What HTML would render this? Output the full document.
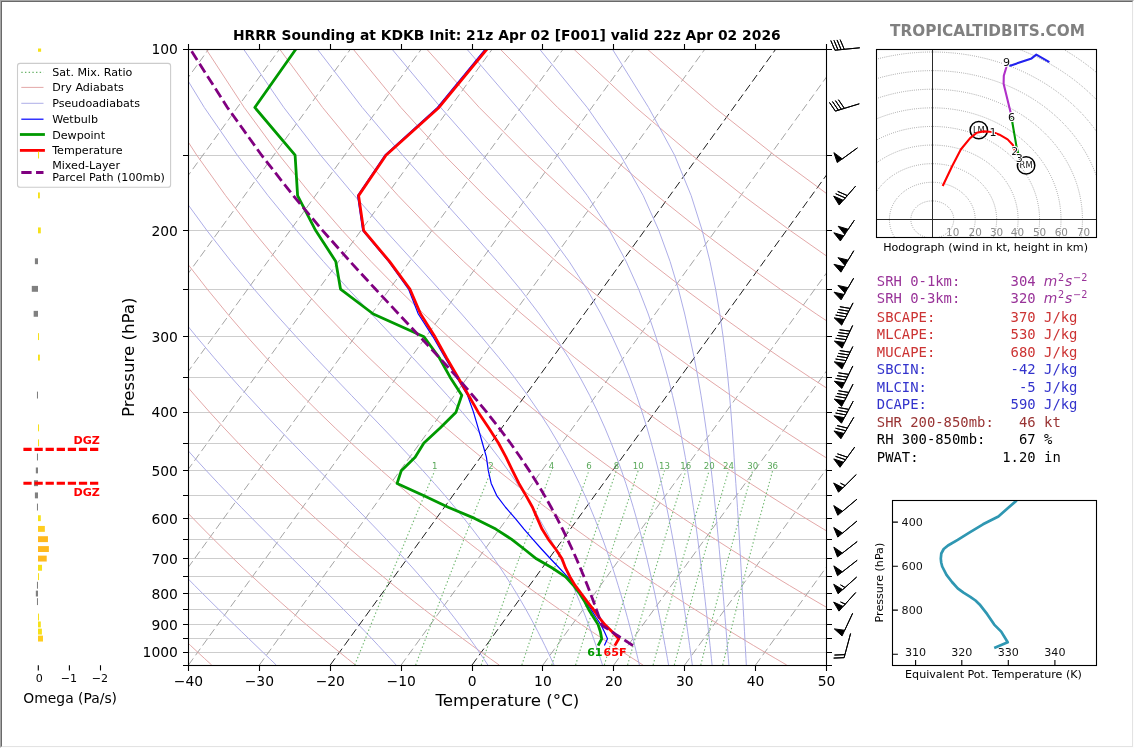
<!DOCTYPE html>
<html lang="en"><head><meta charset="utf-8"><title>HRRR Sounding at KDKB</title>
<style>
html,body{margin:0;padding:0;background:#fff}
#frame{will-change:transform;position:relative;width:1134px;height:748px;overflow:hidden;background:#fff}
#frame .b{position:absolute;box-sizing:border-box;pointer-events:none}
#b1{left:0;top:0;width:1134px;height:748px;border-top:1px solid #a6a6a6;border-left:1px solid #a6a6a6;border-right:1px solid #fdfdfd;border-bottom:1px solid #fdfdfd}
#b2{left:1px;top:1px;width:1132px;height:746px;border-top:1px solid #696969;border-left:1px solid #696969;border-right:1px solid #e3e3e3;border-bottom:1px solid #e3e3e3}
text{white-space:pre}
</style></head><body>
<div id="frame">
<svg width="1134" height="748" viewBox="0 0 1134 748" style="position:absolute;left:0;top:0">
<defs><clipPath id="cp"><rect x="188.5" y="49" width="638" height="616"/></clipPath></defs>
<g clip-path="url(#cp)" fill="none">
<path d="M188.5 49.5H826.5M188.5 155.5H826.5M188.5 230.5H826.5M188.5 289.5H826.5M188.5 336.5H826.5M188.5 377.5H826.5M188.5 412.5H826.5M188.5 443.5H826.5M188.5 470.5H826.5M188.5 495.5H826.5M188.5 518.5H826.5M188.5 539.5H826.5M188.5 558.5H826.5M188.5 576.5H826.5M188.5 593.5H826.5M188.5 609.5H826.5M188.5 624.5H826.5M188.5 638.5H826.5M188.5 652.5H826.5M188.5 665.5H826.5" stroke="#cdcdcd" stroke-width="1"/>
<path d="M-591.28 665L-145.66 49M-520.39 665L-74.77 49M-449.5 665L-3.89 49M-378.61 665L67 49M-307.72 665L137.89 49M-236.83 665L208.78 49M-165.94 665L279.67 49M-95.06 665L350.56 49M-24.17 665L421.45 49M46.72 665L492.34 49M117.61 665L563.23 49M188.5 665L634.11 49M259.39 665L705 49M401.17 665L846.78 49M542.94 665L988.56 49M613.83 665L1059.45 49M684.72 665L1130.34 49M755.61 665L1201.23 49M826.5 665L1272.11 49" stroke="#9a9a9a" stroke-width="0.9" stroke-dasharray="8.2 3.8"/>
<path d="M330.28 665L775.89 49M472.06 665L917.67 49" stroke="#1e1e1e" stroke-width="1.0" stroke-dasharray="8.2 3.8"/>
<path d="M211.66 665 L204.75 658.69 L197.75 652.22 L190.65 645.59 L183.46 638.78 L176.18 631.79 L168.79 624.62 L161.29 617.24 L153.69 609.64 L145.97 601.82 L138.13 593.76 L130.17 585.44 L122.07 576.85 L113.85 567.97 L105.48 558.78 L96.97 549.25 L88.3 539.36 L79.48 529.09 L70.48 518.4 L61.31 507.25 L51.96 495.6 L42.4 483.41 L32.64 470.63 L22.67 457.19 L12.46 443.03 L2.01 428.06 L-8.69 412.17 L-19.67 395.27 L-30.95 377.19 L-42.52 357.78 L-54.43 336.81 L-66.67 314.01 L-79.28 289.04 L-92.26 261.44 L-105.62 230.59 L-119.34 195.6 L-133.37 155.22 L-147.57 107.46 L-161.6 49M355.42 665 L347.53 658.69 L339.52 652.22 L331.41 645.59 L323.18 638.78 L314.84 631.79 L306.37 624.62 L297.77 617.24 L289.04 609.64 L280.18 601.82 L271.16 593.76 L262 585.44 L252.68 576.85 L243.2 567.97 L233.55 558.78 L223.71 549.25 L213.69 539.36 L203.47 529.09 L193.04 518.4 L182.39 507.25 L171.51 495.6 L160.38 483.41 L148.99 470.63 L137.33 457.19 L125.36 443.03 L113.09 428.06 L100.48 412.17 L87.51 395.27 L74.15 377.19 L60.37 357.78 L46.15 336.81 L31.44 314.01 L16.2 289.04 L0.39 261.44 L-16.03 230.59 L-33.1 195.6 L-50.83 155.22 L-69.22 107.46 L-88.07 49M499.19 665 L490.31 658.69 L481.3 652.22 L472.17 645.59 L462.9 638.78 L453.5 631.79 L443.95 624.62 L434.25 617.24 L424.4 609.64 L414.38 601.82 L404.2 593.76 L393.84 585.44 L383.29 576.85 L372.55 567.97 L361.61 558.78 L350.46 549.25 L339.08 539.36 L327.46 529.09 L315.6 518.4 L303.47 507.25 L291.06 495.6 L278.36 483.41 L265.34 470.63 L251.98 457.19 L238.27 443.03 L224.17 428.06 L209.65 412.17 L194.69 395.27 L179.24 377.19 L163.27 357.78 L146.72 336.81 L129.54 314.01 L111.67 289.04 L93.04 261.44 L73.56 230.59 L53.15 195.6 L31.7 155.22 L9.14 107.46 L-14.55 49M642.95 665 L633.09 658.69 L623.08 652.22 L612.93 645.59 L602.62 638.78 L592.16 631.79 L581.53 624.62 L570.73 617.24 L559.76 609.64 L548.59 601.82 L537.24 593.76 L525.68 585.44 L513.9 576.85 L501.91 567.97 L489.68 558.78 L477.2 549.25 L464.46 539.36 L451.45 529.09 L438.15 518.4 L424.55 507.25 L410.61 495.6 L396.33 483.41 L381.68 470.63 L366.64 457.19 L351.17 443.03 L335.24 428.06 L318.83 412.17 L301.87 395.27 L284.34 377.19 L266.16 357.78 L247.29 336.81 L227.65 314.01 L207.15 289.04 L185.69 261.44 L163.15 230.59 L139.39 195.6 L114.23 155.22 L87.49 107.46 L58.97 49M786.72 665 L775.87 658.69 L764.86 652.22 L753.68 645.59 L742.34 638.78 L730.82 631.79 L719.11 624.62 L707.21 617.24 L695.11 609.64 L682.8 601.82 L670.27 593.76 L657.51 585.44 L644.51 576.85 L631.26 567.97 L617.74 558.78 L603.94 549.25 L589.85 539.36 L575.45 529.09 L560.71 518.4 L545.62 507.25 L530.17 495.6 L514.31 483.41 L498.03 470.63 L481.3 457.19 L464.07 443.03 L446.32 428.06 L428 412.17 L409.05 395.27 L389.43 377.19 L369.06 357.78 L347.87 336.81 L325.76 314.01 L302.63 289.04 L278.34 261.44 L252.74 230.59 L225.63 195.6 L196.77 155.22 L165.84 107.46 L132.49 49M930.48 665 L918.65 658.69 L906.64 652.22 L894.44 645.59 L882.06 638.78 L869.48 631.79 L856.69 624.62 L843.69 617.24 L830.47 609.64 L817.01 601.82 L803.31 593.76 L789.35 585.44 L775.12 576.85 L760.61 567.97 L745.81 558.78 L730.69 549.25 L715.24 539.36 L699.44 529.09 L683.27 518.4 L666.7 507.25 L649.72 495.6 L632.29 483.41 L614.38 470.63 L595.95 457.19 L576.98 443.03 L557.4 428.06 L537.17 412.17 L516.24 395.27 L494.52 377.19 L471.96 357.78 L448.44 336.81 L423.87 314.01 L398.11 289.04 L370.99 261.44 L342.33 230.59 L311.87 195.6 L279.3 155.22 L244.19 107.46 L206.01 49M1074.25 665 L1061.43 658.69 L1048.41 652.22 L1035.2 645.59 L1021.78 638.78 L1008.14 631.79 L994.27 624.62 L980.17 617.24 L965.82 609.64 L951.22 601.82 L936.34 593.76 L921.19 585.44 L905.73 576.85 L889.97 567.97 L873.87 558.78 L857.43 549.25 L840.62 539.36 L823.43 529.09 L805.82 518.4 L787.78 507.25 L769.27 495.6 L750.27 483.41 L730.73 470.63 L710.61 457.19 L689.88 443.03 L668.48 428.06 L646.34 412.17 L623.42 395.27 L599.62 377.19 L574.85 357.78 L549.01 336.81 L521.98 314.01 L493.58 289.04 L463.65 261.44 L431.92 230.59 L398.12 195.6 L361.83 155.22 L322.54 107.46 L279.53 49M1218.01 665 L1204.21 658.69 L1190.19 652.22 L1175.96 645.59 L1161.5 638.78 L1146.8 631.79 L1131.85 624.62 L1116.65 617.24 L1101.18 609.64 L1085.43 601.82 L1069.38 593.76 L1053.02 585.44 L1036.34 576.85 L1019.32 567.97 L1001.94 558.78 L984.17 549.25 L966.01 539.36 L947.42 529.09 L928.38 518.4 L908.86 507.25 L888.82 495.6 L868.24 483.41 L847.07 470.63 L825.27 457.19 L802.78 443.03 L779.55 428.06 L755.52 412.17 L730.6 395.27 L704.71 377.19 L677.75 357.78 L649.59 336.81 L620.09 314.01 L589.06 289.04 L556.3 261.44 L521.51 230.59 L484.36 195.6 L444.37 155.22 L400.89 107.46 L353.05 49M1361.77 665 L1346.99 658.69 L1331.97 652.22 L1316.72 645.59 L1301.22 638.78 L1285.46 631.79 L1269.44 624.62 L1253.13 617.24 L1236.54 609.64 L1219.64 601.82 L1202.42 593.76 L1184.86 585.44 L1166.95 576.85 L1148.67 567.97 L1130 558.78 L1110.92 549.25 L1091.4 539.36 L1071.41 529.09 L1050.94 518.4 L1029.94 507.25 L1008.38 495.6 L986.22 483.41 L963.42 470.63 L939.93 457.19 L915.68 443.03 L890.63 428.06 L864.69 412.17 L837.78 395.27 L809.8 377.19 L780.64 357.78 L750.16 336.81 L718.19 314.01 L684.54 289.04 L648.95 261.44 L611.11 230.59 L570.6 195.6 L526.9 155.22 L479.24 107.46 L426.57 49M1505.54 665 L1489.76 658.69 L1473.75 652.22 L1457.47 645.59 L1440.93 638.78 L1424.12 631.79 L1407.02 624.62 L1389.61 617.24 L1371.89 609.64 L1353.85 601.82 L1335.45 593.76 L1316.7 585.44 L1297.56 576.85 L1278.03 567.97 L1258.07 558.78 L1237.66 549.25 L1216.78 539.36 L1195.41 529.09 L1173.49 518.4 L1151.02 507.25 L1127.93 495.6 L1104.2 483.41 L1079.77 470.63 L1054.58 457.19 L1028.59 443.03 L1001.71 428.06 L973.86 412.17 L944.96 395.27 L914.9 377.19 L883.54 357.78 L850.73 336.81 L816.3 314.01 L780.02 289.04 L741.6 261.44 L700.7 230.59 L656.85 195.6 L609.43 155.22 L557.6 107.46 L500.09 49M1649.3 665 L1632.54 658.69 L1615.52 652.22 L1598.23 645.59 L1580.65 638.78 L1562.78 631.79 L1544.6 624.62 L1526.09 617.24 L1507.25 609.64 L1488.05 601.82 L1468.49 593.76 L1448.53 585.44 L1428.17 576.85 L1407.38 567.97 L1386.13 558.78 L1364.41 549.25 L1342.17 539.36 L1319.4 529.09 L1296.05 518.4 L1272.09 507.25 L1247.48 495.6 L1222.17 483.41 L1196.11 470.63 L1169.24 457.19 L1141.49 443.03 L1112.78 428.06 L1083.04 412.17 L1052.15 395.27 L1019.99 377.19 L986.43 357.78 L951.31 336.81 L914.41 314.01 L875.49 289.04 L834.25 261.44 L790.29 230.59 L743.09 195.6 L691.97 155.22 L635.95 107.46 L573.61 49M1793.07 665 L1775.32 658.69 L1757.3 652.22 L1738.99 645.59 L1720.37 638.78 L1701.44 631.79 L1682.18 624.62 L1662.57 617.24 L1642.61 609.64 L1622.26 601.82 L1601.53 593.76 L1580.37 585.44 L1558.78 576.85 L1536.73 567.97 L1514.2 558.78 L1491.15 549.25 L1467.56 539.36 L1443.39 529.09 L1418.61 518.4 L1393.17 507.25 L1367.04 495.6 L1340.15 483.41 L1312.46 470.63 L1283.9 457.19 L1254.39 443.03 L1223.86 428.06 L1192.21 412.17 L1159.33 395.27 L1125.08 377.19 L1089.33 357.78 L1051.88 336.81 L1012.52 314.01 L970.97 289.04 L926.9 261.44 L879.88 230.59 L829.33 195.6 L774.5 155.22 L714.3 107.46 L647.13 49" stroke="#e2a3a3" stroke-width="0.95"/>
<path d="M276.18 665 L269.6 658.69 L262.87 652.22 L255.97 645.59 L248.9 638.78 L241.67 631.79 L234.26 624.62 L226.68 617.24 L218.93 609.64 L211.01 601.82 L202.9 593.76 L194.62 585.44 L186.16 576.85 L177.51 567.97 L168.67 558.78 L159.64 549.25 L150.41 539.36 L140.98 529.09 L131.34 518.4 L121.49 507.25 L111.41 495.6 L101.1 483.41 L90.55 470.63 L79.74 457.19 L68.66 443.03 L57.3 428.06 L45.64 412.17 L33.65 395.27 L21.33 377.19 L8.64 357.78 L-4.43 336.81 L-17.94 314.01 L-31.88 289.04 L-46.29 261.44 L-61.19 230.59 L-76.59 195.6 L-92.48 155.22 L-108.76 107.46 L-125.17 49M396.1 665 L390.42 658.69 L384.52 652.22 L378.37 645.59 L371.98 638.78 L365.32 631.79 L358.41 624.62 L351.21 617.24 L343.73 609.64 L335.96 601.82 L327.9 593.76 L319.53 585.44 L310.86 576.85 L301.87 567.97 L292.56 558.78 L282.94 549.25 L272.99 539.36 L262.71 529.09 L252.1 518.4 L241.17 507.25 L229.89 495.6 L218.27 483.41 L206.29 470.63 L193.96 457.19 L181.25 443.03 L168.16 428.06 L154.66 412.17 L140.73 395.27 L126.35 377.19 L111.49 357.78 L96.1 336.81 L80.08 314.01 L63.45 289.04 L46.15 261.44 L28.13 230.59 L9.31 195.6 L-10.35 155.22 L-30.88 107.46 L-52.21 49M487.86 665 L483.7 658.69 L479.34 652.22 L474.76 645.59 L469.95 638.78 L464.88 631.79 L459.54 624.62 L453.9 617.24 L447.96 609.64 L441.68 601.82 L435.04 593.76 L428.02 585.44 L420.59 576.85 L412.74 567.97 L404.43 558.78 L395.65 549.25 L386.37 539.36 L376.57 529.09 L366.24 518.4 L355.35 507.25 L343.9 495.6 L331.87 483.41 L319.26 470.63 L306.07 457.19 L292.28 443.03 L277.9 428.06 L262.9 412.17 L247.29 395.27 L231.04 377.19 L214.13 357.78 L196.52 336.81 L178.04 314.01 L158.76 289.04 L138.6 261.44 L117.46 230.59 L95.23 195.6 L71.79 155.22 L47.01 107.46 L20.77 49M554.01 665 L551.11 658.69 L548.07 652.22 L544.87 645.59 L541.5 638.78 L537.94 631.79 L534.18 624.62 L530.21 617.24 L525.99 609.64 L521.5 601.82 L516.73 593.76 L511.63 585.44 L506.19 576.85 L500.36 567.97 L494.1 558.78 L487.38 549.25 L480.14 539.36 L472.33 529.09 L463.91 518.4 L454.81 507.25 L444.97 495.6 L434.35 483.41 L422.87 470.63 L410.5 457.19 L397.19 443.03 L382.91 428.06 L367.62 412.17 L351.32 395.27 L334 377.19 L315.64 357.78 L296.24 336.81 L275.67 314.01 L253.98 289.04 L231.12 261.44 L206.99 230.59 L181.45 195.6 L154.32 155.22 L125.36 107.46 L94.3 49M602.49 665 L600.43 658.69 L598.28 652.22 L596.02 645.59 L593.65 638.78 L591.15 631.79 L588.52 624.62 L585.74 617.24 L582.79 609.64 L579.67 601.82 L576.34 593.76 L572.79 585.44 L569 576.85 L564.93 567.97 L560.55 558.78 L555.82 549.25 L550.7 539.36 L545.14 529.09 L539.07 518.4 L532.44 507.25 L525.16 495.6 L517.14 483.41 L508.29 470.63 L498.49 457.19 L487.62 443.03 L475.54 428.06 L462.14 412.17 L447.28 395.27 L430.86 377.19 L412.79 357.78 L393.03 336.81 L371.55 314.01 L348.33 289.04 L323.36 261.44 L296.61 230.59 L267.99 195.6 L237.32 155.22 L204.31 107.46 L168.54 49M639.4 665 L637.9 658.69 L636.33 652.22 L634.7 645.59 L632.98 638.78 L631.19 631.79 L629.3 624.62 L627.32 617.24 L625.23 609.64 L623.01 601.82 L620.66 593.76 L618.17 585.44 L615.51 576.85 L612.66 567.97 L609.6 558.78 L606.31 549.25 L602.75 539.36 L598.89 529.09 L594.67 518.4 L590.06 507.25 L584.98 495.6 L579.36 483.41 L573.1 470.63 L566.11 457.19 L558.23 443.03 L549.32 428.06 L539.18 412.17 L527.59 395.27 L514.29 377.19 L499.01 357.78 L481.47 336.81 L461.6 314.01 L439.01 289.04 L413.63 261.44 L385.43 230.59 L354.45 195.6 L320.63 155.22 L283.78 107.46 L243.44 49M668.56 665 L667.44 658.69 L666.27 652.22 L665.05 645.59 L663.79 638.78 L662.47 631.79 L661.08 624.62 L659.64 617.24 L658.12 609.64 L656.51 601.82 L654.82 593.76 L653.03 585.44 L651.13 576.85 L649.1 567.97 L646.94 558.78 L644.61 549.25 L642.11 539.36 L639.4 529.09 L636.46 518.4 L633.25 507.25 L629.72 495.6 L625.83 483.41 L621.5 470.63 L616.65 457.19 L611.18 443.03 L604.97 428.06 L597.84 412.17 L589.6 395.27 L579.96 377.19 L568.61 357.78 L555.11 336.81 L539.27 314.01 L520.2 289.04 L497.32 261.44 L470.21 230.59 L438.63 195.6 L402.63 155.22 L362.25 107.46 L317.24 49M692.3 665 L691.44 658.69 L690.55 652.22 L689.64 645.59 L688.68 638.78 L687.69 631.79 L686.66 624.62 L685.59 617.24 L684.47 609.64 L683.29 601.82 L682.05 593.76 L680.75 585.44 L679.37 576.85 L677.91 567.97 L676.35 558.78 L674.69 549.25 L672.91 539.36 L670.99 529.09 L668.92 518.4 L666.66 507.25 L664.2 495.6 L661.48 483.41 L658.47 470.63 L655.12 457.19 L651.34 443.03 L647.05 428.06 L642.14 412.17 L636.44 395.27 L629.76 377.19 L621.82 357.78 L612.25 336.81 L600.96 314.01 L586.88 289.04 L569.11 261.44 L546.53 230.59 L518.02 195.6 L482.79 155.22 L440.68 107.46 L391.87 49M712.09 665 L711.43 658.69 L710.75 652.22 L710.05 645.59 L709.32 638.78 L708.57 631.79 L707.8 624.62 L706.99 617.24 L706.16 609.64 L705.29 601.82 L704.37 593.76 L703.42 585.44 L702.41 576.85 L701.35 567.97 L700.23 558.78 L699.04 549.25 L697.77 539.36 L696.41 529.09 L694.94 518.4 L693.35 507.25 L691.62 495.6 L689.73 483.41 L687.64 470.63 L685.31 457.19 L682.7 443.03 L679.75 428.06 L676.38 412.17 L672.47 395.27 L667.89 377.19 L662.45 357.78 L655.86 336.81 L648.23 314.01 L638.6 289.04 L626.14 261.44 L609.64 230.59 L587.36 195.6 L557.16 155.22 L517.14 107.46 L466.74 49M728.92 665 L728.4 658.69 L727.88 652.22 L727.34 645.59 L726.78 638.78 L726.22 631.79 L725.63 624.62 L725.03 617.24 L724.41 609.64 L723.76 601.82 L723.09 593.76 L722.39 585.44 L721.66 576.85 L720.9 567.97 L720.1 558.78 L719.25 549.25 L718.35 539.36 L717.39 529.09 L716.36 518.4 L715.26 507.25 L714.06 495.6 L712.75 483.41 L711.31 470.63 L709.72 457.19 L707.94 443.03 L705.93 428.06 L703.64 412.17 L700.99 395.27 L697.88 377.19 L694.19 357.78 L689.72 336.81 L684.72 314.01 L678.37 289.04 L670.08 261.44 L658.89 230.59 L643.22 195.6 L620.53 155.22 L587.17 107.46 L539.48 49M746.32 665 L745.97 658.69 L745.62 652.22 L745.26 645.59 L744.89 638.78 L744.51 631.79 L744.13 624.62 L743.73 617.24 L743.32 609.64 L742.9 601.82 L742.47 593.76 L742.01 585.44 L741.54 576.85 L741.05 567.97 L740.53 558.78 L739.99 549.25 L739.41 539.36 L738.8 529.09 L738.15 518.4 L737.44 507.25 L736.68 495.6 L735.84 483.41 L734.93 470.63 L734.13 457.19 L733.22 443.03 L732.17 428.06 L730.96 412.17 L729.52 395.27 L727.8 377.19 L725.7 357.78 L723.11 336.81 L719.83 314.01 L715.6 289.04 L709.97 261.44 L702.23 230.59 L691.17 195.6 L674.59 155.22 L648.56 107.46 L612.3 49" stroke="#a9a9e6" stroke-width="0.95"/>
<path d="M354.76 665 L371 624.62 L383.54 593.76 L397.91 558.78 L414.69 518.4 L434.77 470.63M415.67 665 L430.91 624.62 L442.71 593.76 L456.25 558.78 L472.09 518.4 L491.1 470.63M481.21 665 L495.34 624.62 L506.31 593.76 L518.92 558.78 L533.72 518.4 L551.54 470.63M521.86 665 L535.27 624.62 L545.71 593.76 L557.74 558.78 L571.87 518.4 L588.92 470.63M551.77 665 L564.65 624.62 L574.69 593.76 L586.28 558.78 L599.91 518.4 L616.39 470.63M575.6 665 L588.05 624.62 L597.77 593.76 L609 558.78 L622.23 518.4 L638.24 470.63M604.32 665 L616.24 624.62 L625.57 593.76 L636.36 558.78 L649.1 518.4 L664.55 470.63M627.59 665 L639.08 624.62 L648.08 593.76 L658.51 558.78 L670.85 518.4 L685.84 470.63M653.11 665 L664.11 624.62 L672.76 593.76 L682.79 558.78 L694.68 518.4 L709.16 470.63M674.34 665 L684.94 624.62 L693.28 593.76 L702.98 558.78 L714.5 518.4 L728.54 470.63M700.78 665 L710.87 624.62 L718.83 593.76 L728.11 558.78 L739.15 518.4 L752.65 470.63M722.72 665 L732.38 624.62 L740.02 593.76 L748.94 558.78 L759.59 518.4 L772.63 470.63" stroke="#72b872" stroke-width="1.15" stroke-dasharray="1.39 2.29"/>
<text x="434.77" y="469.0" font-family='"DejaVu Sans","Liberation Sans",sans-serif' font-size="8.6" fill="#5aa85a" stroke="none" text-anchor="middle">1</text>
<text x="491.1" y="469.0" font-family='"DejaVu Sans","Liberation Sans",sans-serif' font-size="8.6" fill="#5aa85a" stroke="none" text-anchor="middle">2</text>
<text x="551.54" y="469.0" font-family='"DejaVu Sans","Liberation Sans",sans-serif' font-size="8.6" fill="#5aa85a" stroke="none" text-anchor="middle">4</text>
<text x="588.92" y="469.0" font-family='"DejaVu Sans","Liberation Sans",sans-serif' font-size="8.6" fill="#5aa85a" stroke="none" text-anchor="middle">6</text>
<text x="616.39" y="469.0" font-family='"DejaVu Sans","Liberation Sans",sans-serif' font-size="8.6" fill="#5aa85a" stroke="none" text-anchor="middle">8</text>
<text x="638.24" y="469.0" font-family='"DejaVu Sans","Liberation Sans",sans-serif' font-size="8.6" fill="#5aa85a" stroke="none" text-anchor="middle">10</text>
<text x="664.55" y="469.0" font-family='"DejaVu Sans","Liberation Sans",sans-serif' font-size="8.6" fill="#5aa85a" stroke="none" text-anchor="middle">13</text>
<text x="685.84" y="469.0" font-family='"DejaVu Sans","Liberation Sans",sans-serif' font-size="8.6" fill="#5aa85a" stroke="none" text-anchor="middle">16</text>
<text x="709.16" y="469.0" font-family='"DejaVu Sans","Liberation Sans",sans-serif' font-size="8.6" fill="#5aa85a" stroke="none" text-anchor="middle">20</text>
<text x="728.54" y="469.0" font-family='"DejaVu Sans","Liberation Sans",sans-serif' font-size="8.6" fill="#5aa85a" stroke="none" text-anchor="middle">24</text>
<text x="752.65" y="469.0" font-family='"DejaVu Sans","Liberation Sans",sans-serif' font-size="8.6" fill="#5aa85a" stroke="none" text-anchor="middle">30</text>
<text x="772.63" y="469.0" font-family='"DejaVu Sans","Liberation Sans",sans-serif' font-size="8.6" fill="#5aa85a" stroke="none" text-anchor="middle">36</text>
<path d="M485.3 49 L437.4 107.46 L384.8 155.22 L357.6 195.6 L362.7 230.59 L388.5 261.44 L408.5 289.04 L418.3 314.01 L433 336.81 L445 357.78 L456.5 377.19 L467.5 395.27 L473.5 412.17 L478.2 428.06 L482.4 443.03 L486.4 457.19 L488.3 470.63 L491.2 483.41 L496.7 495.6 L505.5 507.25 L515.2 518.4 L524 529.09 L532.9 539.36 L541.7 549.25 L550.5 558.78 L559.3 567.97 L567.6 576.85 L574.3 585.44 L580.5 593.76 L586 601.82 L591.2 609.64 L595.9 617.24 L600.8 624.62 L604.4 631.79 L607.5 638.78 L604.4 645.59" stroke="#0000ff" stroke-width="1.2" stroke-linejoin="round"/>
<path d="M296 49 L254.8 107.46 L295.1 155.22 L297.6 195.6 L315.7 230.59 L335.8 261.44 L340.5 289.04 L373.3 314.01 L424 336.81 L439.3 357.78 L450.1 377.19 L461.8 395.27 L456 412.17 L440.1 428.06 L423.9 443.03 L415.1 457.19 L401.3 470.63 L397.1 483.41 L423.5 495.6 L448.2 507.25 L474.7 518.4 L495.8 529.09 L511.7 539.36 L524.4 549.25 L536.4 558.78 L552.3 567.97 L565.6 576.85 L573.6 585.44 L579.7 593.76 L584.8 601.82 L588.8 609.64 L593.5 617.24 L598.1 624.62 L600.4 631.79 L601.7 638.78 L598.1 645.59" stroke="#009900" stroke-width="2.8" stroke-linejoin="round"/>
<path d="M487 49 L439 107.46 L386 155.22 L358.6 195.6 L363.7 230.59 L389.5 261.44 L409.9 289.04 L420.6 314.01 L435 336.81 L446.5 357.78 L457.9 377.19 L468.5 395.27 L478.2 412.17 L488.8 428.06 L498.4 443.03 L506 457.19 L512.5 470.63 L518.9 483.41 L526 495.6 L532.5 507.25 L537.3 518.4 L542 529.09 L548.4 539.36 L555.8 549.25 L562 558.78 L565.5 567.97 L570 576.85 L575.1 585.44 L581.4 593.76 L587.4 601.82 L593.5 609.64 L598.8 617.24 L604.8 624.62 L612.2 631.79 L618.8 638.78 L614.8 645.59" stroke="#ff0000" stroke-width="2.8" stroke-linejoin="round"/>
<path d="M633 645.59 L630.92 644.24 L628.83 642.88 L626.73 641.52 L624.63 640.16 L622.52 638.78 L620.4 637.4 L618.28 636.01 L616.15 634.61 L614.02 633.21 L611.88 631.79 L609.73 630.37 L607.58 628.95 L605.41 627.51 L603.25 626.07 L601.61 624.62 L601.12 623.16 L600.62 621.69 L600.12 620.21 L599.09 617.24 L596.44 609.64 L593.62 601.82 L590.62 593.76 L587.42 585.44 L584.01 576.85 L580.35 567.97 L576.41 558.78 L572.16 549.25 L567.56 539.36 L562.55 529.09 L557.1 518.4 L551.12 507.25 L544.55 495.6 L537.3 483.41 L529.26 470.63 L520.32 457.19 L510.34 443.03 L499.18 428.06 L486.67 412.17 L472.65 395.27 L456.97 377.19 L439.48 357.78 L420.09 336.81 L398.73 314.01 L375.38 289.04 L350.04 261.44 L322.69 230.59 L293.26 195.6 L261.59 155.22 L227.38 107.46 L190.19 49" stroke="#800080" stroke-width="2.8" stroke-dasharray="10.3 4.45"/>
</g>
<text x="602.6" y="655.7" font-family='"DejaVu Sans","Liberation Sans",sans-serif' font-size="11.1" font-weight="bold" fill="#009900" text-anchor="end">61</text>
<text x="603.6" y="655.7" font-family='"DejaVu Sans","Liberation Sans",sans-serif' font-size="11.1" font-weight="bold" fill="#ff0000">65F</text>
<rect x="188.5" y="49.5" width="638" height="616" fill="none" stroke="#000" stroke-width="1.1"/>
<path d="M188.5 49.5h-5.5M826.5 49.5h5.5M188.5 155.5h-5.5M826.5 155.5h5.5M188.5 230.5h-5.5M826.5 230.5h5.5M188.5 289.5h-5.5M826.5 289.5h5.5M188.5 336.5h-5.5M826.5 336.5h5.5M188.5 377.5h-5.5M826.5 377.5h5.5M188.5 412.5h-5.5M826.5 412.5h5.5M188.5 443.5h-5.5M826.5 443.5h5.5M188.5 470.5h-5.5M826.5 470.5h5.5M188.5 495.5h-5.5M826.5 495.5h5.5M188.5 518.5h-5.5M826.5 518.5h5.5M188.5 539.5h-5.5M826.5 539.5h5.5M188.5 558.5h-5.5M826.5 558.5h5.5M188.5 576.5h-5.5M826.5 576.5h5.5M188.5 593.5h-5.5M826.5 593.5h5.5M188.5 609.5h-5.5M826.5 609.5h5.5M188.5 624.5h-5.5M826.5 624.5h5.5M188.5 638.5h-5.5M826.5 638.5h5.5M188.5 652.5h-5.5M826.5 652.5h5.5M188.5 665.5h-5.5M826.5 665.5h5.5M188.5 665.5v5.5M188.5 49.5v-5.5M259.5 665.5v5.5M259.5 49.5v-5.5M330.5 665.5v5.5M330.5 49.5v-5.5M401.5 665.5v5.5M401.5 49.5v-5.5M472.5 665.5v5.5M472.5 49.5v-5.5M542.5 665.5v5.5M542.5 49.5v-5.5M613.5 665.5v5.5M613.5 49.5v-5.5M684.5 665.5v5.5M684.5 49.5v-5.5M755.5 665.5v5.5M755.5 49.5v-5.5M826.5 665.5v5.5M826.5 49.5v-5.5" stroke="#000" stroke-width="1.1" fill="none"/>
<text x="177.9" y="54.1" font-family='"DejaVu Sans","Liberation Sans",sans-serif' font-size="13.89" text-anchor="end">100</text>
<text x="177.9" y="235.69" font-family='"DejaVu Sans","Liberation Sans",sans-serif' font-size="13.89" text-anchor="end">200</text>
<text x="177.9" y="341.91" font-family='"DejaVu Sans","Liberation Sans",sans-serif' font-size="13.89" text-anchor="end">300</text>
<text x="177.9" y="417.27" font-family='"DejaVu Sans","Liberation Sans",sans-serif' font-size="13.89" text-anchor="end">400</text>
<text x="177.9" y="475.73" font-family='"DejaVu Sans","Liberation Sans",sans-serif' font-size="13.89" text-anchor="end">500</text>
<text x="177.9" y="523.5" font-family='"DejaVu Sans","Liberation Sans",sans-serif' font-size="13.89" text-anchor="end">600</text>
<text x="177.9" y="563.88" font-family='"DejaVu Sans","Liberation Sans",sans-serif' font-size="13.89" text-anchor="end">700</text>
<text x="177.9" y="598.86" font-family='"DejaVu Sans","Liberation Sans",sans-serif' font-size="13.89" text-anchor="end">800</text>
<text x="177.9" y="629.72" font-family='"DejaVu Sans","Liberation Sans",sans-serif' font-size="13.89" text-anchor="end">900</text>
<text x="177.9" y="657.32" font-family='"DejaVu Sans","Liberation Sans",sans-serif' font-size="13.89" text-anchor="end">1000</text>
<text x="188.5" y="685.6" font-family='"DejaVu Sans","Liberation Sans",sans-serif' font-size="13.89" text-anchor="middle">−40</text>
<text x="259.39" y="685.6" font-family='"DejaVu Sans","Liberation Sans",sans-serif' font-size="13.89" text-anchor="middle">−30</text>
<text x="330.28" y="685.6" font-family='"DejaVu Sans","Liberation Sans",sans-serif' font-size="13.89" text-anchor="middle">−20</text>
<text x="401.17" y="685.6" font-family='"DejaVu Sans","Liberation Sans",sans-serif' font-size="13.89" text-anchor="middle">−10</text>
<text x="472.06" y="685.6" font-family='"DejaVu Sans","Liberation Sans",sans-serif' font-size="13.89" text-anchor="middle">0</text>
<text x="542.94" y="685.6" font-family='"DejaVu Sans","Liberation Sans",sans-serif' font-size="13.89" text-anchor="middle">10</text>
<text x="613.83" y="685.6" font-family='"DejaVu Sans","Liberation Sans",sans-serif' font-size="13.89" text-anchor="middle">20</text>
<text x="684.72" y="685.6" font-family='"DejaVu Sans","Liberation Sans",sans-serif' font-size="13.89" text-anchor="middle">30</text>
<text x="755.61" y="685.6" font-family='"DejaVu Sans","Liberation Sans",sans-serif' font-size="13.89" text-anchor="middle">40</text>
<text x="826.5" y="685.6" font-family='"DejaVu Sans","Liberation Sans",sans-serif' font-size="13.89" text-anchor="middle">50</text>
<text x="507.4" y="706.2" font-family='"DejaVu Sans","Liberation Sans",sans-serif' font-size="16.67" text-anchor="middle">Temperature (°C)</text>
<text transform="translate(133.6 357.2) rotate(-90)" font-family='"DejaVu Sans","Liberation Sans",sans-serif' font-size="16.67" text-anchor="middle">Pressure (hPa)</text>
<text x="506.8" y="40.2" font-family='"DejaVu Sans","Liberation Sans",sans-serif' font-size="13.89" font-weight="bold" text-anchor="middle">HRRR Sounding at KDKB Init: 21z Apr 02 [F001] valid 22z Apr 02 2026</text>
<path d="M859.79 47.8 L834.91 50.2 L830.84 40.54 L834.91 50.2 L838.02 49.9 L833.95 40.24 L838.02 49.9 L841.13 49.6 L837.06 39.94 L841.13 49.6 L844.24 49.3 L840.17 39.65 L844.24 49.3ZM859.3 103.8 L835.4 111.11 L829.48 102.46 L835.4 111.11 L838.38 110.2 L832.47 101.55 L838.38 110.2 L841.37 109.29 L835.46 100.64 L841.37 109.29 L844.36 108.37 L838.45 99.72 L844.36 108.37ZM857.46 147.87 L837.24 162.57 L833.89 152.64 L842.29 158.9ZM855.55 186.17 L839.15 205.04 L833.65 196.12 L843.25 200.32 L845.3 197.96 L835.7 193.76 L845.3 197.96 L847.35 195.6 L837.75 191.4 L847.35 195.6ZM854.34 220.22 L840.36 240.95 L833.82 232.77 L843.86 235.77 L844.73 234.47 L838.19 226.29 L848.22 229.29ZM853.79 250.73 L840.91 272.16 L833.95 264.33 L844.13 266.8 L844.94 265.46 L837.97 257.63 L848.15 260.1ZM853.6 278.22 L841.1 299.87 L834 292.16 L844.23 294.46 L845.01 293.1 L837.91 285.4 L848.13 287.69ZM853.02 302.88 L841.68 325.15 L834.18 317.83 L844.51 319.58 L845.93 316.8 L835.6 315.04 L845.93 316.8 L847.35 314.01 L837.02 312.26 L847.35 314.01 L848.77 311.23 L838.44 309.47 L848.77 311.23 L850.19 308.44 L839.86 306.69 L850.19 308.44ZM852.63 325.48 L842.07 348.14 L834.32 341.08 L844.71 342.47 L846.03 339.64 L835.65 338.25 L846.03 339.64 L847.35 336.81 L836.97 335.41 L847.35 336.81 L848.67 333.98 L838.29 332.58 L848.67 333.98 L849.99 331.14 L839.61 329.75 L849.99 331.14ZM852.83 346.54 L841.87 369.01 L834.25 361.82 L844.61 363.39 L845.98 360.59 L835.62 359.01 L845.98 360.59 L847.35 357.78 L836.99 356.2 L847.35 357.78 L848.72 354.97 L838.36 353.39 L848.72 354.97 L850.09 352.16 L839.73 350.58 L850.09 352.16ZM852.83 365.96 L841.87 388.43 L834.25 381.23 L844.61 382.81 L845.98 380 L835.62 378.43 L845.98 380 L847.35 377.19 L836.99 375.62 L847.35 377.19 L848.72 374.38 L838.36 372.81 L848.72 374.38ZM853.02 384.13 L841.68 406.4 L834.18 399.08 L844.51 400.83 L845.93 398.05 L835.6 396.3 L845.93 398.05 L847.35 395.27 L837.02 393.51 L847.35 395.27 L848.77 392.48 L838.44 390.73 L848.77 392.48ZM853.22 401.14 L841.48 423.21 L834.12 415.76 L844.42 417.69 L845.88 414.93 L835.59 413 L845.88 414.93 L847.35 412.17 L837.05 410.24 L847.35 412.17 L848.82 409.41 L838.52 407.48 L848.82 409.41ZM853.79 417.34 L840.91 438.77 L833.95 430.94 L844.13 433.41 L845.74 430.73 L835.56 428.26 L845.74 430.73 L847.35 428.06 L837.17 425.58 L847.35 428.06ZM854.7 447.08 L840 467.31 L833.75 458.9 L843.68 462.25 L845.51 459.72 L835.59 456.37 L845.51 459.72 L847.35 457.19 L837.42 453.84 L847.35 457.19ZM856.19 474.57 L838.51 492.25 L833.65 482.97 L842.93 487.83 L845.14 485.62 L840.5 483.19 L845.14 485.62ZM856.93 499.21 L837.77 515.28 L833.74 505.61 L842.56 511.26ZM856.93 521.05 L837.77 537.12 L833.74 527.46 L842.56 533.11ZM857.2 541.56 L837.5 556.95 L833.81 547.14 L842.42 553.1ZM857.2 560.28 L837.5 575.67 L833.81 565.86 L842.42 571.82ZM856.64 577.08 L838.06 593.81 L833.69 584.28 L842.71 589.63 L845.03 587.53 L840.52 584.86 L845.03 587.53ZM855.71 592.53 L838.99 611.11 L833.65 602.1 L843.17 606.47 L845.26 604.14 L840.5 601.96 L845.26 604.14ZM852.63 613.29 L842.07 635.95 L834.32 628.89 L844.71 630.28ZM850.59 633.51 L844.11 657.66 L833.65 658.09 L844.11 657.66 L844.92 654.64 L834.46 655.07 L844.92 654.64Z" fill="#000" stroke="#000" stroke-width="1.0" stroke-linejoin="miter"/>
<rect x="17.5" y="63.4" width="153.1" height="123.9" rx="2.6" fill="#fff" fill-opacity="0.8" stroke="#cccccc" stroke-width="1.1"/>
<path d="M21.3 72.4H43.5" stroke="#6ab36a" stroke-width="1.35" fill="none" stroke-dasharray="1.39 2.29"/>
<text x="52.2" y="76.4" font-family='"DejaVu Sans","Liberation Sans",sans-serif' font-size="11.11">Sat. Mix. Ratio</text>
<path d="M21.3 87.4H43.5" stroke="#e2a3a3" stroke-width="0.95" fill="none"/>
<text x="52.2" y="91.4" font-family='"DejaVu Sans","Liberation Sans",sans-serif' font-size="11.11">Dry Adiabats</text>
<path d="M21.3 103.3H43.5" stroke="#a9a9e6" stroke-width="0.95" fill="none"/>
<text x="52.2" y="107.3" font-family='"DejaVu Sans","Liberation Sans",sans-serif' font-size="11.11">Pseudoadiabats</text>
<path d="M21.3 119.2H43.5" stroke="#0000ff" stroke-width="1.2" fill="none"/>
<text x="52.2" y="123.2" font-family='"DejaVu Sans","Liberation Sans",sans-serif' font-size="11.11">Wetbulb</text>
<path d="M21.3 134.5H43.5" stroke="#009900" stroke-width="2.8" fill="none" stroke-linecap="square"/>
<text x="52.2" y="138.5" font-family='"DejaVu Sans","Liberation Sans",sans-serif' font-size="11.11">Dewpoint</text>
<path d="M21.3 150.4H43.5" stroke="#ff0000" stroke-width="2.8" fill="none" stroke-linecap="square"/>
<text x="52.2" y="154.4" font-family='"DejaVu Sans","Liberation Sans",sans-serif' font-size="11.11">Temperature</text>
<path d="M21.3 172.5H43.5" stroke="#800080" stroke-width="2.8" stroke-dasharray="10.3 4.45" fill="none"/>
<text x="52.2" y="169.4" font-family='"DejaVu Sans","Liberation Sans",sans-serif' font-size="11.11">Mixed-Layer</text>
<text x="52.2" y="181.0" font-family='"DejaVu Sans","Liberation Sans",sans-serif' font-size="11.11">Parcel Path (100mb)</text>
<defs><clipPath id="oc"><rect x="0" y="48.5" width="180" height="616"/></clipPath></defs><g clip-path="url(#oc)">
<rect x="38" y="45.85" width="3.11" height="5.9" fill="#f6e118"/>
<rect x="38" y="151.57" width="1.05" height="6.9" fill="#f6e118"/>
<rect x="38" y="192.45" width="1.87" height="5.9" fill="#f6e118"/>
<rect x="38" y="227.44" width="2.8" height="5.9" fill="#f6e118"/>
<rect x="34.89" y="258.29" width="3.11" height="5.9" fill="#808080"/>
<rect x="31.78" y="285.89" width="6.22" height="5.9" fill="#808080"/>
<rect x="33.65" y="310.86" width="4.35" height="5.9" fill="#808080"/>
<rect x="38" y="333.16" width="1.05" height="6.9" fill="#f6e118"/>
<rect x="38" y="354.63" width="1.87" height="5.9" fill="#f6e118"/>
<rect x="36.95" y="391.62" width="1.05" height="6.9" fill="#808080"/>
<rect x="38" y="424.41" width="1.05" height="6.9" fill="#f6e118"/>
<rect x="38" y="439.38" width="1.05" height="6.9" fill="#f6e118"/>
<rect x="36.95" y="453.54" width="1.05" height="6.9" fill="#808080"/>
<rect x="35.82" y="467.48" width="2.18" height="5.9" fill="#808080"/>
<rect x="33.96" y="480.26" width="4.04" height="5.9" fill="#808080"/>
<rect x="34.89" y="492.45" width="3.11" height="5.9" fill="#808080"/>
<rect x="36.95" y="503.6" width="1.05" height="6.9" fill="#808080"/>
<rect x="38" y="515.25" width="2.8" height="5.9" fill="#f6e118"/>
<rect x="38" y="525.94" width="6.84" height="5.9" fill="#ffcd1e"/>
<rect x="38" y="536.21" width="9.95" height="5.9" fill="#ffb91e"/>
<rect x="38" y="546.1" width="10.88" height="5.9" fill="#ffb91e"/>
<rect x="38" y="555.63" width="8.71" height="5.9" fill="#ffb91e"/>
<rect x="38" y="564.82" width="4.04" height="5.9" fill="#f6e118"/>
<rect x="38" y="573.2" width="1.05" height="6.9" fill="#f6e118"/>
<rect x="36.95" y="581.79" width="1.05" height="6.9" fill="#808080"/>
<rect x="35.82" y="590.61" width="2.18" height="5.9" fill="#808080"/>
<rect x="36.95" y="598.17" width="1.05" height="6.9" fill="#808080"/>
<rect x="38" y="613.59" width="1.05" height="6.9" fill="#f6e118"/>
<rect x="38" y="621.47" width="2.8" height="5.9" fill="#f6e118"/>
<rect x="38" y="628.64" width="3.89" height="5.9" fill="#f6e118"/>
<rect x="38" y="635.63" width="4.98" height="5.9" fill="#ffcd1e"/>
</g>
<path d="M38.3 665.2v5.4M69.4 665.2v5.4M100.5 665.2v5.4" stroke="#000" stroke-width="1.1" fill="none"/>
<text x="39.4" y="682.2" font-family='"DejaVu Sans","Liberation Sans",sans-serif' font-size="11.11" text-anchor="middle">0</text>
<text x="68.9" y="682.2" font-family='"DejaVu Sans","Liberation Sans",sans-serif' font-size="11.11" text-anchor="middle">−1</text>
<text x="100" y="682.2" font-family='"DejaVu Sans","Liberation Sans",sans-serif' font-size="11.11" text-anchor="middle">−2</text>
<text x="70.2" y="703.0" font-family='"DejaVu Sans","Liberation Sans",sans-serif' font-size="13.89" text-anchor="middle">Omega (Pa/s)</text>
<path d="M23.4 449.4H98.6M23.4 483.3H98.6" stroke="#ff0000" stroke-width="3.1" stroke-dasharray="8.25 2.85" fill="none"/>
<text x="99.9" y="444.1" font-family='"DejaVu Sans","Liberation Sans",sans-serif' font-size="11.11" font-weight="bold" fill="#ff0000" text-anchor="end">DGZ</text>
<text x="99.9" y="496.4" font-family='"DejaVu Sans","Liberation Sans",sans-serif' font-size="11.11" font-weight="bold" fill="#ff0000" text-anchor="end">DGZ</text>
<text x="987.5" y="36.3" font-family='"DejaVu Sans","Liberation Sans",sans-serif' font-size="15.28" font-weight="bold" fill="#808080" text-anchor="middle">TROPICALTIDBITS.COM</text>
<defs><clipPath id="hc"><rect x="876.5" y="49.5" width="220" height="188"/></clipPath></defs>
<g clip-path="url(#hc)" fill="none">
<ellipse cx="932.3" cy="219.5" rx="21.45" ry="18.61" stroke="#858585" stroke-width="0.83" stroke-dasharray="0.83 1.32"/>
<ellipse cx="932.3" cy="219.5" rx="42.9" ry="37.22" stroke="#858585" stroke-width="0.83" stroke-dasharray="0.83 1.32"/>
<ellipse cx="932.3" cy="219.5" rx="64.35" ry="55.83" stroke="#858585" stroke-width="0.83" stroke-dasharray="0.83 1.32"/>
<ellipse cx="932.3" cy="219.5" rx="85.8" ry="74.44" stroke="#858585" stroke-width="0.83" stroke-dasharray="0.83 1.32"/>
<ellipse cx="932.3" cy="219.5" rx="107.25" ry="93.05" stroke="#858585" stroke-width="0.83" stroke-dasharray="0.83 1.32"/>
<ellipse cx="932.3" cy="219.5" rx="128.7" ry="111.66" stroke="#858585" stroke-width="0.83" stroke-dasharray="0.83 1.32"/>
<ellipse cx="932.3" cy="219.5" rx="150.15" ry="130.27" stroke="#858585" stroke-width="0.83" stroke-dasharray="0.83 1.32"/>
<ellipse cx="932.3" cy="219.5" rx="171.6" ry="148.88" stroke="#858585" stroke-width="0.83" stroke-dasharray="0.83 1.32"/>
<ellipse cx="932.3" cy="219.5" rx="193.05" ry="167.49" stroke="#858585" stroke-width="0.83" stroke-dasharray="0.83 1.32"/>
<ellipse cx="932.3" cy="219.5" rx="214.5" ry="186.1" stroke="#858585" stroke-width="0.83" stroke-dasharray="0.83 1.32"/>
<ellipse cx="932.3" cy="219.5" rx="235.95" ry="204.71" stroke="#858585" stroke-width="0.83" stroke-dasharray="0.83 1.32"/>
<ellipse cx="932.3" cy="219.5" rx="257.4" ry="223.32" stroke="#858585" stroke-width="0.83" stroke-dasharray="0.83 1.32"/>
<ellipse cx="932.3" cy="219.5" rx="278.85" ry="241.93" stroke="#858585" stroke-width="0.83" stroke-dasharray="0.83 1.32"/>
<path d="M932.5 49.5V237.5M876.5 219.5H1096.5" stroke="#2a2a2a" stroke-width="1.05"/>
<text x="952.7" y="235.7" font-family='"DejaVu Sans","Liberation Sans",sans-serif' font-size="10.4" fill="#8c8c8c" text-anchor="middle">10</text>
<text x="975.2" y="235.7" font-family='"DejaVu Sans","Liberation Sans",sans-serif' font-size="10.4" fill="#8c8c8c" text-anchor="middle">20</text>
<text x="996.5" y="235.7" font-family='"DejaVu Sans","Liberation Sans",sans-serif' font-size="10.4" fill="#8c8c8c" text-anchor="middle">30</text>
<text x="1017.4" y="235.7" font-family='"DejaVu Sans","Liberation Sans",sans-serif' font-size="10.4" fill="#8c8c8c" text-anchor="middle">40</text>
<text x="1039.5" y="235.7" font-family='"DejaVu Sans","Liberation Sans",sans-serif' font-size="10.4" fill="#8c8c8c" text-anchor="middle">50</text>
<text x="1061.3" y="235.7" font-family='"DejaVu Sans","Liberation Sans",sans-serif' font-size="10.4" fill="#8c8c8c" text-anchor="middle">60</text>
<text x="1083.6" y="235.7" font-family='"DejaVu Sans","Liberation Sans",sans-serif' font-size="10.4" fill="#8c8c8c" text-anchor="middle">70</text>
<circle cx="978.8" cy="130.1" r="8.7" stroke="#000" stroke-width="1.5"/>
<text x="978.8" y="133.1" font-family='"DejaVu Sans","Liberation Sans",sans-serif' font-size="8.33" fill="#111" text-anchor="middle">LM</text>
<circle cx="1026.1" cy="165.4" r="8.7" stroke="#000" stroke-width="1.5"/>
<text x="1026.1" y="168.4" font-family='"DejaVu Sans","Liberation Sans",sans-serif' font-size="8.33" fill="#111" text-anchor="middle">RM</text>
<path d="M942.7 186 L952.1 166.2 L960.8 149.5 L970.1 138.1 L976.8 132.7 L983.5 131.4 L990.2 131.7 L993.1 132.2 L999.5 134.7 L1007.6 139.4 L1012.9 145 L1015 151 L1019.3 157.7" stroke="#ff0000" stroke-width="2.1" stroke-linejoin="round"/>
<path d="M1019.3 157.7 L1016.3 145.4 L1012.3 122.3 L1011.6 116.6" stroke="#009900" stroke-width="2.1" stroke-linejoin="round"/>
<path d="M1011.6 116.6 L1010.2 110.8 L1003.6 83.8 L1003.8 75.8 L1006.2 67.7 L1006.6 62.5" stroke="#b030c8" stroke-width="2.1" stroke-linejoin="round"/>
<path d="M1006.6 62.5 L1010.2 65.7 L1031.6 58.4 L1036.3 54.6 L1049.4 62.1" stroke="#2222ee" stroke-width="2.1" stroke-linejoin="round"/>
<text x="993.1" y="136.15" font-family='"DejaVu Sans","Liberation Sans",sans-serif' font-size="11.11" fill="#111" stroke="#fff" stroke-width="2.2" paint-order="stroke" text-anchor="middle">1</text>
<text x="1014.9" y="155.15" font-family='"DejaVu Sans","Liberation Sans",sans-serif' font-size="11.11" fill="#111" stroke="#fff" stroke-width="2.2" paint-order="stroke" text-anchor="middle">2</text>
<text x="1019.3" y="161.75" font-family='"DejaVu Sans","Liberation Sans",sans-serif' font-size="11.11" fill="#111" stroke="#fff" stroke-width="2.2" paint-order="stroke" text-anchor="middle">3</text>
<text x="1011.6" y="120.65" font-family='"DejaVu Sans","Liberation Sans",sans-serif' font-size="11.11" fill="#111" stroke="#fff" stroke-width="2.2" paint-order="stroke" text-anchor="middle">6</text>
<text x="1006.6" y="65.75" font-family='"DejaVu Sans","Liberation Sans",sans-serif' font-size="11.11" fill="#111" stroke="#fff" stroke-width="2.2" paint-order="stroke" text-anchor="middle">9</text>
</g>
<rect x="876.5" y="49.5" width="220" height="188" fill="none" stroke="#000" stroke-width="1.1"/>
<text x="985.6" y="250.6" font-family='"DejaVu Sans","Liberation Sans",sans-serif' font-size="11.11" text-anchor="middle">Hodograph (wind in kt, height in km)</text>
<text x="876.8" y="286" font-family='"DejaVu Sans Mono","Liberation Mono",monospace' font-size="13.89" fill="#993399" xml:space="preserve">SRH 0-1km:</text>
<text x="1035.68" y="286" font-family='"DejaVu Sans Mono","Liberation Mono",monospace' font-size="13.89" fill="#993399" text-anchor="end">304</text>
<text x="1043.64" y="286" font-family='"DejaVu Sans","Liberation Sans",sans-serif' font-size="13.89" font-style="italic" fill="#993399">m<tspan dx="0.9" dy="-5.3" font-size="9.72" font-style="normal">2</tspan><tspan dx="0.7" dy="5.3">s</tspan><tspan dx="0.9" dy="-5.3" font-size="9.72" font-style="normal">−2</tspan></text>
<text x="876.8" y="302.8" font-family='"DejaVu Sans Mono","Liberation Mono",monospace' font-size="13.89" fill="#993399" xml:space="preserve">SRH 0-3km:</text>
<text x="1035.68" y="302.8" font-family='"DejaVu Sans Mono","Liberation Mono",monospace' font-size="13.89" fill="#993399" text-anchor="end">320</text>
<text x="1043.64" y="302.8" font-family='"DejaVu Sans","Liberation Sans",sans-serif' font-size="13.89" font-style="italic" fill="#993399">m<tspan dx="0.9" dy="-5.3" font-size="9.72" font-style="normal">2</tspan><tspan dx="0.7" dy="5.3">s</tspan><tspan dx="0.9" dy="-5.3" font-size="9.72" font-style="normal">−2</tspan></text>
<text x="876.8" y="322.2" font-family='"DejaVu Sans Mono","Liberation Mono",monospace' font-size="13.89" fill="#cc3333" xml:space="preserve">SBCAPE:</text>
<text x="1035.68" y="322.2" font-family='"DejaVu Sans Mono","Liberation Mono",monospace' font-size="13.89" fill="#cc3333" text-anchor="end">370</text>
<text x="1044.04" y="322.2" font-family='"DejaVu Sans Mono","Liberation Mono",monospace' font-size="13.89" fill="#cc3333">J/kg</text>
<text x="876.8" y="339.3" font-family='"DejaVu Sans Mono","Liberation Mono",monospace' font-size="13.89" fill="#cc3333" xml:space="preserve">MLCAPE:</text>
<text x="1035.68" y="339.3" font-family='"DejaVu Sans Mono","Liberation Mono",monospace' font-size="13.89" fill="#cc3333" text-anchor="end">530</text>
<text x="1044.04" y="339.3" font-family='"DejaVu Sans Mono","Liberation Mono",monospace' font-size="13.89" fill="#cc3333">J/kg</text>
<text x="876.8" y="356.7" font-family='"DejaVu Sans Mono","Liberation Mono",monospace' font-size="13.89" fill="#cc3333" xml:space="preserve">MUCAPE:</text>
<text x="1035.68" y="356.7" font-family='"DejaVu Sans Mono","Liberation Mono",monospace' font-size="13.89" fill="#cc3333" text-anchor="end">680</text>
<text x="1044.04" y="356.7" font-family='"DejaVu Sans Mono","Liberation Mono",monospace' font-size="13.89" fill="#cc3333">J/kg</text>
<text x="876.8" y="374.1" font-family='"DejaVu Sans Mono","Liberation Mono",monospace' font-size="13.89" fill="#3333cc" xml:space="preserve">SBCIN:</text>
<text x="1035.68" y="374.1" font-family='"DejaVu Sans Mono","Liberation Mono",monospace' font-size="13.89" fill="#3333cc" text-anchor="end">-42</text>
<text x="1044.04" y="374.1" font-family='"DejaVu Sans Mono","Liberation Mono",monospace' font-size="13.89" fill="#3333cc">J/kg</text>
<text x="876.8" y="391.8" font-family='"DejaVu Sans Mono","Liberation Mono",monospace' font-size="13.89" fill="#3333cc" xml:space="preserve">MLCIN:</text>
<text x="1035.68" y="391.8" font-family='"DejaVu Sans Mono","Liberation Mono",monospace' font-size="13.89" fill="#3333cc" text-anchor="end">-5</text>
<text x="1044.04" y="391.8" font-family='"DejaVu Sans Mono","Liberation Mono",monospace' font-size="13.89" fill="#3333cc">J/kg</text>
<text x="876.8" y="409.2" font-family='"DejaVu Sans Mono","Liberation Mono",monospace' font-size="13.89" fill="#3333cc" xml:space="preserve">DCAPE:</text>
<text x="1035.68" y="409.2" font-family='"DejaVu Sans Mono","Liberation Mono",monospace' font-size="13.89" fill="#3333cc" text-anchor="end">590</text>
<text x="1044.04" y="409.2" font-family='"DejaVu Sans Mono","Liberation Mono",monospace' font-size="13.89" fill="#3333cc">J/kg</text>
<text x="876.8" y="426.9" font-family='"DejaVu Sans Mono","Liberation Mono",monospace' font-size="13.89" fill="#993333" xml:space="preserve">SHR 200-850mb:</text>
<text x="1035.68" y="426.9" font-family='"DejaVu Sans Mono","Liberation Mono",monospace' font-size="13.89" fill="#993333" text-anchor="end">46</text>
<text x="1044.04" y="426.9" font-family='"DejaVu Sans Mono","Liberation Mono",monospace' font-size="13.89" fill="#993333">kt</text>
<text x="876.8" y="444.3" font-family='"DejaVu Sans Mono","Liberation Mono",monospace' font-size="13.89" fill="#000" xml:space="preserve">RH 300-850mb:</text>
<text x="1035.68" y="444.3" font-family='"DejaVu Sans Mono","Liberation Mono",monospace' font-size="13.89" fill="#000" text-anchor="end">67</text>
<text x="1044.04" y="444.3" font-family='"DejaVu Sans Mono","Liberation Mono",monospace' font-size="13.89" fill="#000">%</text>
<text x="876.8" y="462" font-family='"DejaVu Sans Mono","Liberation Mono",monospace' font-size="13.89" fill="#000" xml:space="preserve">PWAT:</text>
<text x="1035.68" y="462" font-family='"DejaVu Sans Mono","Liberation Mono",monospace' font-size="13.89" fill="#000" text-anchor="end">1.20</text>
<text x="1044.04" y="462" font-family='"DejaVu Sans Mono","Liberation Mono",monospace' font-size="13.89" fill="#000">in</text>
<defs><clipPath id="tc"><rect x="892.5" y="500.5" width="204" height="165"/></clipPath></defs>
<g clip-path="url(#tc)"><path d="M1016.7 500.4 L1008 508 L998.4 516.5 L983 524.3 L968.9 532.8 L957.7 539.8 L948 545.5 L943.7 549 L941.3 553.5 L940.8 558.6 L941.2 562.5 L942.2 566.5 L946.5 574.9 L952 582 L957.7 588.4 L963.5 592.7 L970.3 596.8 L975.5 600.5 L979.6 604.4 L987.2 614.2 L994.2 624.6 L1001.2 631.6 L1007.7 642.3 L994.2 647.9" fill="none" stroke="#2f97b2" stroke-width="2.7" stroke-linejoin="round"/></g>
<rect x="892.5" y="500.5" width="204" height="165" fill="none" stroke="#000" stroke-width="1.1"/>
<text x="901.6" y="526.15" font-family='"DejaVu Sans","Liberation Sans",sans-serif' font-size="11.11" fill="#111">400</text>
<text x="901.6" y="570.25" font-family='"DejaVu Sans","Liberation Sans",sans-serif' font-size="11.11" fill="#111">600</text>
<text x="901.6" y="614.15" font-family='"DejaVu Sans","Liberation Sans",sans-serif' font-size="11.11" fill="#111">800</text>
<text x="915.6" y="656.0" font-family='"DejaVu Sans","Liberation Sans",sans-serif' font-size="11.11" fill="#111" text-anchor="middle">310</text>
<text x="961.8" y="656.0" font-family='"DejaVu Sans","Liberation Sans",sans-serif' font-size="11.11" fill="#111" text-anchor="middle">320</text>
<text x="1008.3" y="656.0" font-family='"DejaVu Sans","Liberation Sans",sans-serif' font-size="11.11" fill="#111" text-anchor="middle">330</text>
<text x="1054.9" y="656.0" font-family='"DejaVu Sans","Liberation Sans",sans-serif' font-size="11.11" fill="#111" text-anchor="middle">340</text>
<path d="M892.5 522.1h5.4M892.5 566.2h5.4M892.5 610.1h5.4M892.5 654.2h5.4M915.6 665.5v-5.4M961.8 665.5v-5.4M1008.3 665.5v-5.4M1054.9 665.5v-5.4" stroke="#000" stroke-width="1.1" fill="none"/>
<text x="993.5" y="678.2" font-family='"DejaVu Sans","Liberation Sans",sans-serif' font-size="11.11" text-anchor="middle">Equivalent Pot. Temperature (K)</text>
<text transform="translate(883.4 582.6) rotate(-90)" font-family='"DejaVu Sans","Liberation Sans",sans-serif' font-size="11.11" text-anchor="middle">Pressure (hPa)</text>
</svg>
<div class="b" id="b1"></div><div class="b" id="b2"></div>
</div>
</body></html>
